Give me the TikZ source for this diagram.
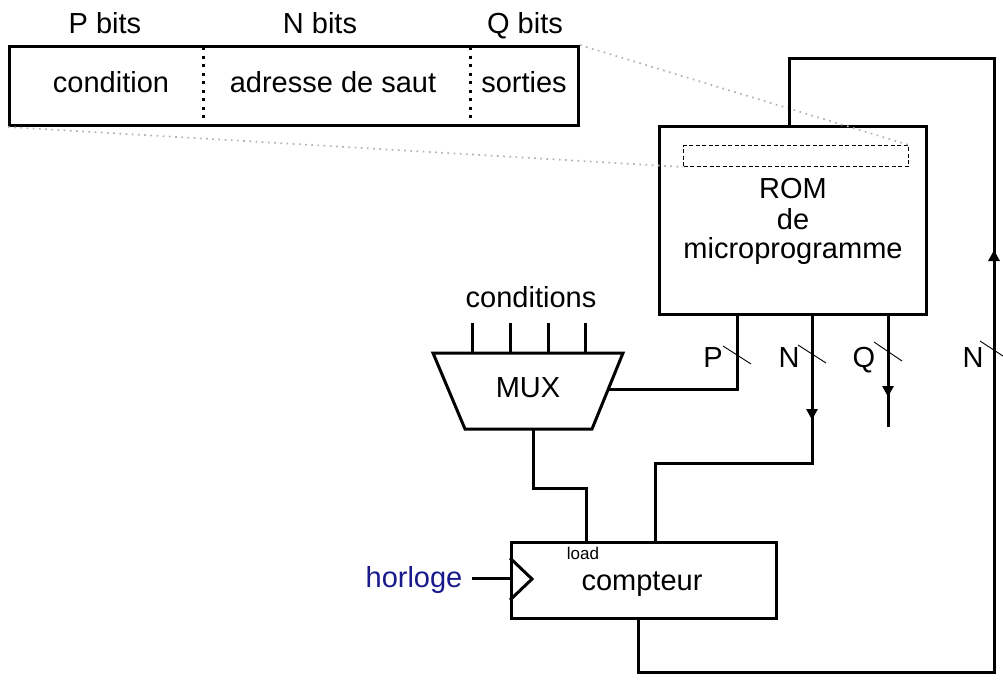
\documentclass[tikz,border=0pt]{standalone}
\usepackage{fontspec}
\setmainfont{Liberation Sans}
\usetikzlibrary{arrows.meta}
\definecolor{horl}{RGB}{25,25,140}
\begin{document}
\begin{tikzpicture}[x=1pt,y=-1pt,
  wire/.style={line width=3pt},
  slash/.style={line width=0.9pt},
  box/.style={draw,line width=3pt,inner sep=0pt,anchor=north west},
  lbl/.style={font=\fontsize{29}{31}\selectfont,inner sep=0pt,anchor=base},
  small/.style={font=\fontsize{17}{19}\selectfont,inner sep=0pt,anchor=base},
  tip/.style={-{Triangle[length=11pt,width=11pt]}},
  zoomline/.style={gray!60,line width=1.7pt,dash pattern=on 1.7pt off 4.5pt},
  divider/.style={line width=3pt,dash pattern=on 3pt off 5.5pt}]
\useasboundingbox (0,0) rectangle (1003,680);

% instruction word
\node[box,minimum width=569pt,minimum height=79pt] (word) at (8,45) {};
\coordinate (d1t) at (203,47); \coordinate (d1b) at (203,122);
\coordinate (d2t) at (470,47); \coordinate (d2b) at (470,122);
\draw[divider] (d1t) -- (d1b);
\draw[divider] (d2t) -- (d2b);
\node[lbl] (pb) at (105,33) {P bits};
\node[lbl] (nb) at (320,33) {N bits};
\node[lbl] (qb) at (525,33) {Q bits};
\node[lbl] (cond) at (111,92) {condition};
\node[lbl] (adr) at (333,92) {adresse de saut};
\node[lbl] (sor) at (524,92) {sorties};

% ROM
\node[box,minimum width=267pt,minimum height=188pt] (rom) at (658,125) {};
\node[draw,dashed,line width=1pt,dash pattern=on 4pt off 2.5pt,inner sep=0pt,
      minimum width=225pt,minimum height=21pt,anchor=north west] (slot) at (683,145) {};
\node[lbl] (romt) at (793,198) {ROM};
\node[lbl] (romd) at (793,229) {de};
\node[lbl] (romm) at (793,258) {microprogramme};

% zoom lines
\draw[zoomline] (word.north east) -- (slot.north east);
\draw[zoomline] (word.south west) -- (slot.south west);

% MUX
\coordinate (m1) at (433,353); \coordinate (m2) at (623,353);
\coordinate (m3) at (592,429); \coordinate (m4) at (465,429);
\draw[wire,line join=miter] (m1) -- (m2) -- (m3) -- (m4) -- cycle;
\node[lbl] (mux) at (528,397) {MUX};
\node[lbl] (conds) at (531,307) {conditions};
\foreach \x in {472,510,548,585}
  \draw[wire] (\x,323) -- (\x,353);

% compteur
\node[box,minimum width=265pt,minimum height=76pt] (cnt) at (510,541) {};
\node[lbl] (cntt) at (642,590) {compteur};
\node[small] (load) at (583,559) {load};
\draw[wire,line join=miter] (510,558) -- (532,579) -- (510,600);
\node[lbl,text=horl] (clk) at (414,587) {horloge};
\coordinate (clkin) at (510,578);
\draw[wire] (clk.east |- clkin) ++(9,0) -- (clkin);

% ROM outputs
\coordinate (pout) at (737,313);
\coordinate (pc) at (737,389);
\coordinate (muxin) at (608,389);
\draw[wire,line join=miter] (pout) -- (pc) -- (muxin);

\coordinate (nout) at (812,313);
\coordinate (narr) at (812,420);
\draw[wire,tip] (nout) -- (narr);
\draw[wire,line join=miter] (812,410) |- (655,463) -- (cnt.north west -| 655,0);

\coordinate (qout) at (888,313);
\coordinate (qarr) at (888,397);
\coordinate (qend) at (888,427);
\draw[wire,tip] (qout) -- (qarr);
\draw[wire] (888,388) -- (qend);

% MUX output to load
\coordinate (mo) at (533,429);
\draw[wire,line join=miter] (mo) |- (586,488) -- (586,541);

% feedback loop
\coordinate (fb1) at (638,617);
\coordinate (fb2) at (994,672);
\coordinate (farr) at (994,250);
\draw[wire,tip,line join=miter] (fb1) |- (fb2) -- (farr);
\draw[wire,line join=miter] (994,262) |- (789,58) -- (789,125);

% bus slashes and labels
\draw[slash] (723,346) -- (751,364);
\draw[slash] (798,345) -- (826,363);
\draw[slash] (874,342) -- (902,361);
\draw[slash] (980,341) -- (1006,358);
\node[lbl] (lp) at (713,367) {P};
\node[lbl] (ln) at (789,367) {N};
\node[lbl] (lq) at (864,367) {Q};
\node[lbl] (ln2) at (973,367) {N};
\end{tikzpicture}
\end{document}
